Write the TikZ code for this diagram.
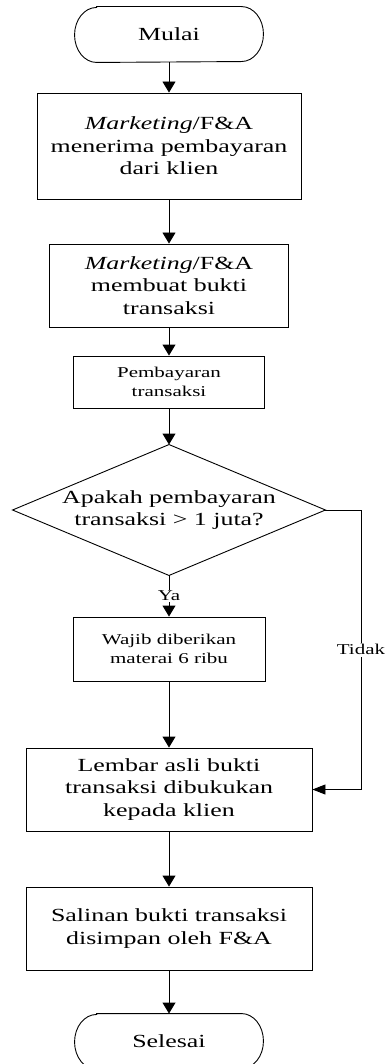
\documentclass[tikz,border=0pt]{standalone}
\usepackage{fontspec}
\setmainfont{Liberation Serif}[FakeStretch=1.4]
\usetikzlibrary{arrows.meta}

% outline of a start/end terminal: straight top and bottom, elliptic ends
\newcommand\termoutline[1]{%
  \draw ([xshift=22pt]#1.north west) -- ([xshift=-22pt]#1.north east)
    arc[start angle=90,end angle=-90,x radius=22pt,y radius=27.5pt]
    -- ([xshift=22pt]#1.south west)
    arc[start angle=270,end angle=90,x radius=22pt,y radius=27.5pt] -- cycle;}

\begin{document}
\begin{tikzpicture}[x=1pt,y=-1pt,
  line width=0.9pt,
  big/.style={font=\fontsize{18.5}{22.5}\selectfont},
  small/.style={font=\fontsize{15}{19}\selectfont},
  procbox/.style={draw, rectangle, align=center, inner sep=0pt, big},
  smallbox/.style={procbox, small},
  termnode/.style={rectangle, align=center, inner sep=0pt, big,
    minimum width=188, minimum height=55},
  flow/.style={-{Triangle[width=13pt,length=11pt]}},
  hflow/.style={-{Triangle[width=10pt,length=13pt]}},
  lbl/.style={fill=white, inner sep=1.5pt, small},
]
\useasboundingbox (0,0) rectangle (387,1064);

% steps
\node[termnode] (start) at (169,34.5) {Mulai};
\termoutline{start}

\node[procbox, minimum width=264, minimum height=106] (recv) at (169,146)
  {\textit{Marketing}/F\&A\\menerima pembayaran\\dari klien};

\node[procbox, minimum width=239, minimum height=83] (proof) at (169,285.5)
  {\textit{Marketing}/F\&A\\membuat bukti\\transaksi};

\node[smallbox, minimum width=191, minimum height=52] (pay) at (169,382)
  {Pembayaran\\transaksi};

\node[rectangle, align=center, inner sep=0pt, big,
  minimum width=312, minimum height=130] (dec) at (169,510)
  {Apakah pembayaran\\transaksi > 1 juta?};
\draw (dec.north) -- (dec.east) -- (dec.south) -- (dec.west) -- cycle;

\node[smallbox, minimum width=192, minimum height=64] (stamp) at (169,649)
  {Wajib diberikan\\materai 6 ribu};

\node[procbox, minimum width=286, minimum height=83] (orig) at (169,789.5)
  {Lembar asli bukti\\transaksi dibukukan\\kepada klien};

\node[procbox, minimum width=286, minimum height=83] (copy) at (169,928.5)
  {Salinan bukti transaksi\\disimpan oleh F\&A};

\node[termnode] (stop) at (169,1041.5) {Selesai};
\termoutline{stop}

\coordinate (turn) at (361,510);

% connectors
\draw[flow] (start) -- (recv);
\draw[flow] (recv) -- (proof);
\draw[flow] (proof) -- (pay);
\draw[flow] (pay) -- (dec.north);
\draw[flow] (dec.south) -- node[lbl] {Ya} (stamp);
\draw[flow] (stamp) -- (orig);
\draw[hflow] (dec.east) -- (turn) |- node[lbl, pos=0.25] {Tidak} (orig.east);
\draw[flow] (orig) -- (copy);
\draw[flow] (copy) -- (stop);
\end{tikzpicture}
\end{document}
